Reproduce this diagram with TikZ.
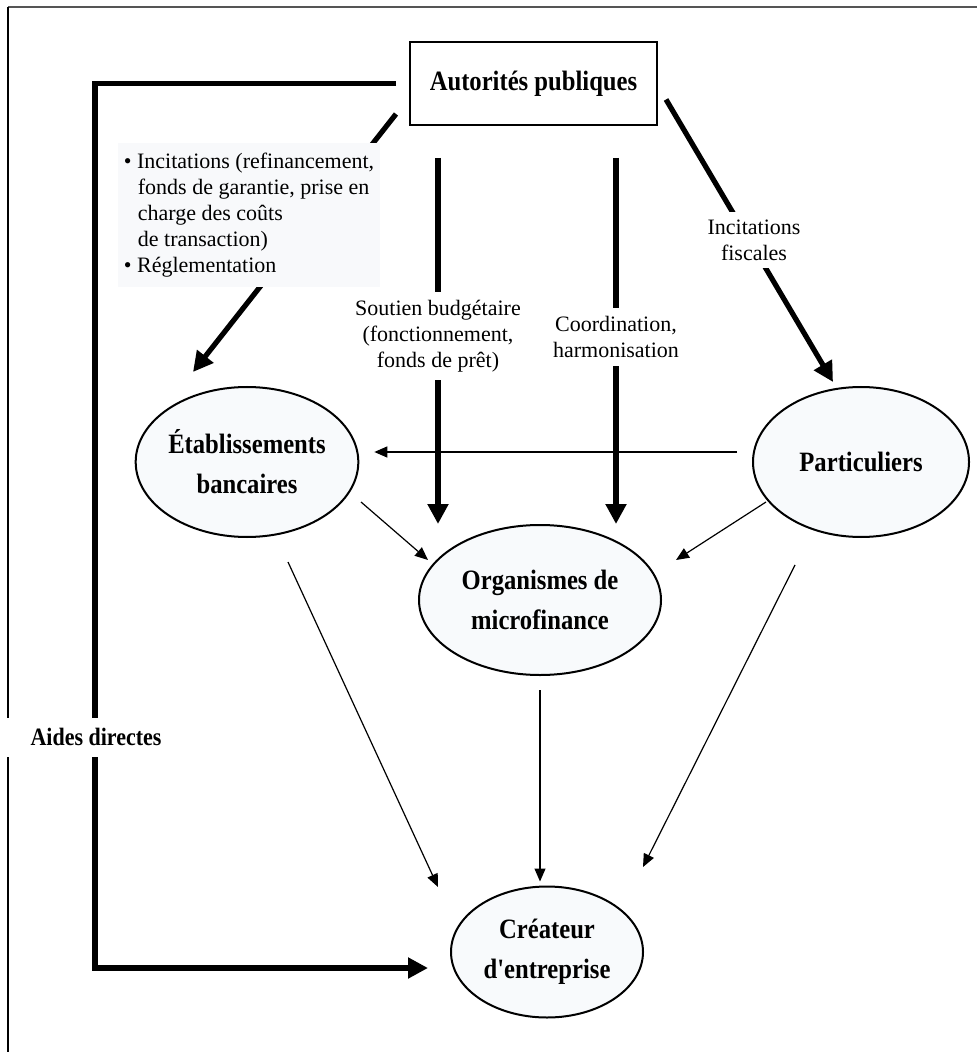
\documentclass[tikz,border=0pt]{standalone}
\usepackage{fontspec}
\setmainfont{Liberation Serif}
\newfontfamily\titlefont{Liberation Serif}[FakeStretch=0.88]
\usetikzlibrary{arrows.meta,shapes.geometric}
\definecolor{ovalfill}{RGB}{248,250,252}
\definecolor{notefill}{RGB}{248,249,251}
\definecolor{framegray}{RGB}{85,85,85}

\begin{document}
\begin{tikzpicture}[x=0.5pt,y=-0.5pt,
    titletext/.style={font=\titlefont\bfseries\fontsize{14}{20}\selectfont},
    oval/.style={ellipse,draw,line width=1pt,fill=ovalfill,inner sep=0pt,align=center,titletext},
    heavy/.style={line width=2.6pt,-{Triangle[length=10pt,width=10pt]}},
    light/.style={line width=0.6pt,-{Triangle[length=6.5pt,width=5.5pt]}},
    note/.style={fill=white,inner sep=4pt,align=center,font=\fontsize{11}{13}\selectfont}]

  \useasboundingbox (0,0) rectangle (977,1052);
  % cadre
  \draw[framegray,line width=1pt] (8,7) -- (977,7);
  \draw[line width=0.8pt] (8,7) -- (8,1052);

  % acteurs
  \node[draw,line width=1pt,minimum width=123.5pt,minimum height=41.5pt,titletext] (auth) at (533.5,83.5) {Autorités publiques};
  \node[oval,minimum width=110pt,minimum height=75pt] (etab) at (247,462) {Établissements\\bancaires};
  \node[oval,minimum width=108pt,minimum height=75pt] (part) at (861,462) {Particuliers};
  \node[oval,minimum width=121pt,minimum height=75pt] (orga) at (540,600) {Organismes de\\microfinance};
  \node[oval,minimum width=96pt,minimum height=65.5pt] (crea) at (547,952) {Créateur\\d'entreprise};

  % flux publics
  \coordinate (aidcorner) at (95,968);
  \draw[heavy] ([xshift=-6.5pt]auth.west) -| (aidcorner) -- ([shift={(-11pt,-8pt)}]crea.west);
  \draw[heavy] ([shift={(-6.5pt,6pt)}]auth.south west) -- ([shift={(-27pt,7pt)}]etab.north);
  \draw[heavy] ([shift={(4pt,-8pt)}]auth.east) -- ([shift={(-14pt,2pt)}]part.north);
  \coordinate (sout) at ([shift={(-47.75pt,-16pt)}]auth.south);
  \coordinate (coord) at ([shift={(41.25pt,-16pt)}]auth.south);
  \draw[heavy] (sout) -- (sout |- orga.north);
  \draw[heavy] (coord) -- (coord |- orga.north);

  % flux financiers
  \draw[light,shorten <=7.5pt,shorten >=7.5pt] ([yshift=5pt]part.west) -- ([yshift=5pt]etab.east);
  \draw[light] ([shift={(57pt,-20pt)}]etab.center) -- ([shift={(-56pt,20pt)}]orga.center);
  \draw[light] ([shift={(-47.5pt,-20pt)}]part.center) -- ([shift={(68pt,20pt)}]orga.center);
  \draw[light] ([shift={(20.5pt,-50pt)}]etab.center) -- ([shift={(-54.5pt,32.5pt)}]crea.center);
  \draw[light,shorten <=7pt,shorten >=2pt] (orga.south) -- (orga.south |- crea.north);
  \draw[light] ([shift={(-33pt,-51.5pt)}]part.center) -- ([shift={(48pt,42.5pt)}]crea.center);

  % libelles
  \node[fill=notefill,inner sep=0pt,minimum width=131pt,minimum height=72pt,align=left,
    font=\fontsize{11}{13}\selectfont] (incit) at (249,215)
    {\textbullet\ Incitations (refinancement,\\
     \hspace*{7pt}fonds de garantie, prise en\\
     \hspace*{7pt}charge des coûts\\
     \hspace*{7pt}de transaction)\\
     \textbullet\ Réglementation};
  \node[note] (fisc) at (754,240) {Incitations\\fiscales};
  \node[note] (soutlbl) at (438,336) {Soutien budgétaire\\(fonctionnement,\\fonds de prêt)};
  \node[note] (coordlbl) at (616,337) {Coordination,\\harmonisation};
  \node[fill=white,inner sep=0pt,minimum width=92.5pt,minimum height=19.5pt,
    font=\titlefont\bfseries\fontsize{12.5}{15}\selectfont] (aides) at (96,737) {Aides directes};

\end{tikzpicture}
\end{document}
